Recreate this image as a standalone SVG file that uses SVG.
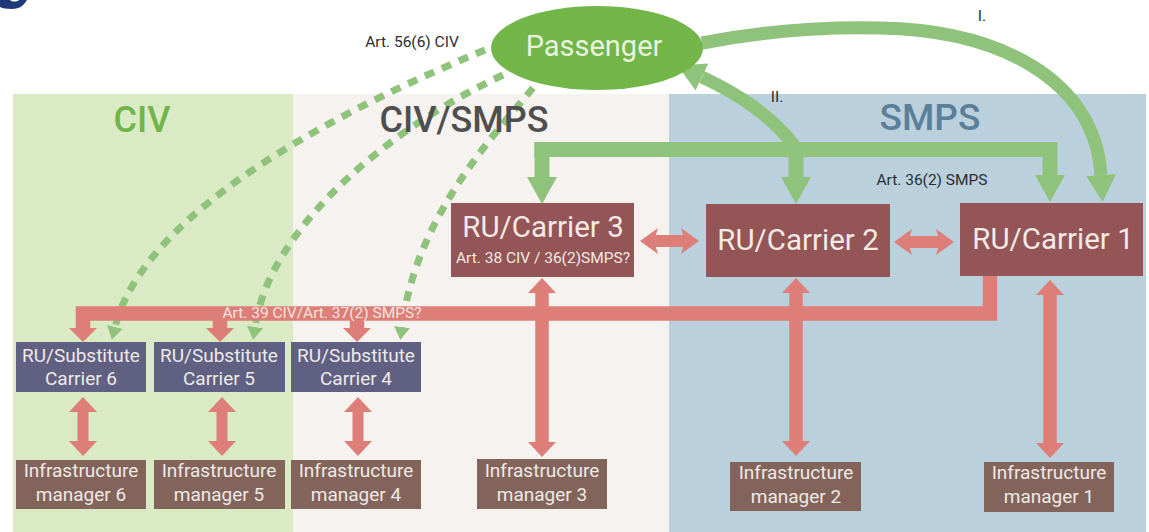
<svg xmlns="http://www.w3.org/2000/svg" width="1149" height="532" viewBox="0 0 1149 532">
<style>
text{font-family:"Roboto","Noto Sans",sans-serif;text-anchor:middle}
.t{fill:#eee9e6;font-size:19px}
.big{fill:#f3e9e6;font-size:29.500px}
.lab{fill:#2a2e32;font-size:15.500px}
.h{font-size:36px;font-weight:500}
.car{fill:#935555}.sub{fill:#5f6082}.im{fill:#83645a}
.gs{fill:none;stroke:#8fc27a;stroke-width:13}
.gb{fill:none;stroke:#8fc27a;stroke-width:15}
.gd{fill:none;stroke:#8fc27a;stroke-width:7;stroke-dasharray:10 8.500}
.rs{fill:none;stroke:#dd7f78;stroke-width:14.500}
.rd{fill:none;stroke:#dd7f78;stroke-width:11;marker-start:url(#rh);marker-end:url(#rh)}
.rv{fill:none;stroke:#dd7f78;stroke-width:13.500;marker-start:url(#rh);marker-end:url(#rh)}
.rh{fill:none;stroke:#dd7f78;stroke-width:12;marker-start:url(#rw);marker-end:url(#rw)}
</style>
<defs>
<marker id="gh" markerUnits="userSpaceOnUse" markerWidth="28" markerHeight="30" refX="0" refY="15" orient="auto"><path d="M0,0L27,15L0,30Z" fill="#8fc27a"/></marker>
<marker id="ghs" markerUnits="userSpaceOnUse" markerWidth="14" markerHeight="16" refX="0" refY="8" orient="auto"><path d="M0,0L13,8L0,16Z" fill="#8fc27a"/></marker>
<marker id="rh" markerUnits="userSpaceOnUse" markerWidth="16" markerHeight="28" refX="0" refY="14" orient="auto-start-reverse"><path d="M0,0L15,14L0,28Z" fill="#dd7f78"/></marker>
<marker id="rw" markerUnits="userSpaceOnUse" markerWidth="19" markerHeight="26" refX="4" refY="13" orient="auto-start-reverse"><path d="M0,0L18,13L0,26L4,13Z" fill="#dd7f78"/></marker>
<marker id="rd" markerUnits="userSpaceOnUse" markerWidth="16" markerHeight="28" refX="0" refY="14" orient="auto"><path d="M0,0L14,14L0,28Z" fill="#dd7f78"/></marker>
</defs>
<rect width="1149" height="532" fill="#fff"/>
<g id="regions">
<rect x="13" y="94" width="280" height="438" fill="#d9eac5"/>
<rect x="293" y="94" width="376" height="438" fill="#f5f2f0"/>
<rect x="669" y="94" width="477" height="438" fill="#bad0dd"/>
<path d="M0,0H10C12,2 17,2 19,0H27C24,5 20,9 12,9C6,9 2,8 0,7Z" fill="#1f3a78"/>
</g>
<g id="connectors">
<path class="gd" marker-end="url(#ghs)" d="M485,50C340,110 145,210 115,327"/>
<path class="gd" marker-end="url(#ghs)" d="M503,75C395,125 270,225 255,327"/>
<path class="gd" marker-end="url(#ghs)" d="M533,88C480,150 415,225 402,327"/>
<path class="gs" marker-end="url(#gh)" d="M702,43Q790,26 880,28C1000,30 1095,80 1101,175"/>
<path class="gs" marker-end="url(#gh)" d="M794,145C770,115 740,95 702,77"/>
<path class="gb" marker-end="url(#gh)" d="M796,150V177"/>
<path class="gb" marker-end="url(#gh)" d="M542,142V177"/>
<path class="gb" marker-end="url(#gh)" d="M534.500,149.500H1050V175"/>
<path class="rs" marker-end="url(#rd)" d="M990,276V313.500H83V328"/>
<path class="rs" marker-end="url(#rd)" d="M220,314V328"/>
<path class="rs" marker-end="url(#rd)" d="M357,314V328"/>
<path class="rd" d="M83,412V441"/>
<path class="rd" d="M222,412V441"/>
<path class="rd" d="M358,412V441"/>
<path class="rh" d="M654,241H685"/>
<path class="rh" d="M908,242H940"/>
<path class="rv" d="M542,293V442"/>
<path class="rv" d="M796,293V441"/>
<path class="rv" d="M1050,295V443"/>
</g>
<g id="passenger"><ellipse cx="597" cy="48" rx="106" ry="42" fill="#72b548"/><text x="594" y="56" font-size="29" fill="#e8f3dc">Passenger</text></g>
<g id="carrier3"><rect class="car" x="451" y="203" width="183" height="74"/><text class="big" x="543" y="237">RU/Carrier 3</text><text x="543" y="263" font-size="15.500" fill="#f3e9e6">Art. 38 CIV / 36(2)SMPS?</text></g>
<g id="carrier2"><rect class="car" x="706" y="204" width="184" height="73"/><text class="big" x="798" y="250">RU/Carrier 2</text></g>
<g id="carrier1"><rect class="car" x="960" y="203" width="183" height="73"/><text class="big" x="1053" y="249">RU/Carrier 1</text></g>
<g id="sub6"><rect class="sub" x="16" y="342" width="130" height="50"/><text class="t" x="81" y="362">RU/Substitute</text><text class="t" x="81" y="385">Carrier 6</text></g>
<g id="sub5"><rect class="sub" x="154" y="342" width="131" height="50"/><text class="t" x="219" y="362">RU/Substitute</text><text class="t" x="219" y="385">Carrier 5</text></g>
<g id="sub4"><rect class="sub" x="291" y="342" width="130" height="50"/><text class="t" x="356" y="362">RU/Substitute</text><text class="t" x="356" y="385">Carrier 4</text></g>
<g id="im6"><rect class="im" x="16" y="460" width="130" height="49"/><text class="t" x="81" y="477">Infrastructure</text><text class="t" x="81" y="501">manager 6</text></g>
<g id="im5"><rect class="im" x="154" y="460" width="131" height="49"/><text class="t" x="219" y="477">Infrastructure</text><text class="t" x="219" y="501">manager 5</text></g>
<g id="im4"><rect class="im" x="291" y="460" width="130" height="49"/><text class="t" x="356" y="477">Infrastructure</text><text class="t" x="356" y="501">manager 4</text></g>
<g id="im3"><rect class="im" x="477" y="459" width="130" height="50"/><text class="t" x="542" y="477">Infrastructure</text><text class="t" x="542" y="501">manager 3</text></g>
<g id="im2"><rect class="im" x="730" y="462" width="131" height="49"/><text class="t" x="796" y="479">Infrastructure</text><text class="t" x="796" y="503">manager 2</text></g>
<g id="im1"><rect class="im" x="984" y="462" width="130" height="50"/><text class="t" x="1049" y="479">Infrastructure</text><text class="t" x="1049" y="503">manager 1</text></g>
<g id="labels">
<text class="h" x="142" y="132" fill="#6fb54a">CIV</text>
<text class="h" x="464" y="132" fill="#4f4f4f">CIV/SMPS</text>
<text class="h" x="930" y="130" fill="#5b7f99" style="font-size:37px">SMPS</text>
<text class="lab" x="412" y="47">Art. 56(6) CIV</text>
<text class="lab" x="932" y="185">Art. 36(2) SMPS</text>
<text class="lab" x="982" y="21">I.</text>
<text class="lab" x="777" y="102">II.</text>
<text x="322" y="318" font-size="15.500" fill="#f6e3df">Art. 39 CIV/Art. 37(2) SMPS?</text>
</g>
</svg>
